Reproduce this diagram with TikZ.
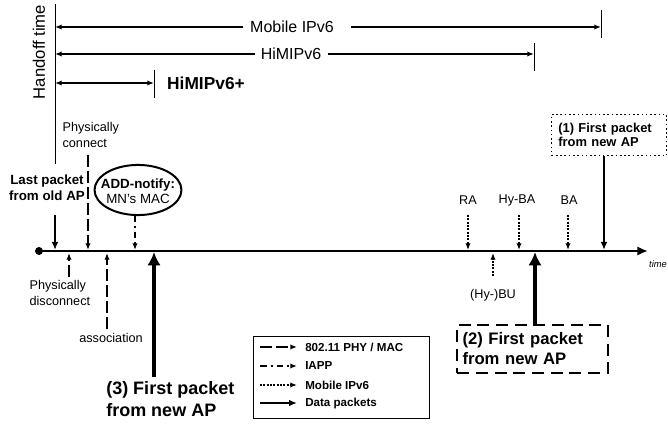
\documentclass[tikz,border=0pt]{standalone}
\usepackage{fontspec}
\setmainfont{Liberation Sans}
\usetikzlibrary{arrows, arrows.meta, shapes.geometric, positioning}

\tikzset{
  span/.style={line width=1.2pt, -{Latex[length=5pt, width=4pt]}},
  phy/.style={line width=1.5pt, dash pattern=on 9pt off 3pt, -{Latex[length=5pt, width=4pt]}},
  iapp/.style={line width=1.5pt, dash pattern=on 5pt off 3pt on 1.5pt off 3pt, -{Latex[length=5pt, width=4pt]}},
  mipv/.style={line width=1.5pt, dash pattern=on 1.5pt off 1pt, -{Latex[length=5pt, width=4pt]}},
  datapkt/.style={line width=1.5pt, -{Latex[length=6pt, width=5pt]}},
  bigpkt/.style={line width=3.5pt, -{Latex[length=10pt, width=10pt]}},
  txt/.style={font=\fontsize{9.5}{11.3}\selectfont, inner sep=1pt},
  btxt/.style={font=\bfseries\fontsize{10}{12}\selectfont, inner sep=1pt},
  legtxt/.style={font=\bfseries\fontsize{8.7}{10}\selectfont, anchor=west, inner sep=0pt},
}

\begin{document}
\begin{tikzpicture}[x=0.75pt, y=-0.75pt]
\useasboundingbox (0,0) rectangle (668,424);

% handoff time axis and spans
\coordinate (htop) at (55,4);
\coordinate (hbot) at (55,164);
\draw [thin] (htop) -- (hbot);
\node [rotate=90, font=\fontsize{12.5}{14}\selectfont] (htime) at (39,52) {Handoff time};

\node [font=\fontsize{12}{14}\selectfont, inner sep=0pt] (mip6) at (292,27) {Mobile IPv6};
\node [font=\fontsize{12}{14}\selectfont, inner sep=0pt] (himip) at (291,54) {HiMIPv6};
\node [font=\bfseries\fontsize{13}{15}\selectfont, inner sep=0pt] (himipp) at (206,83) {HiMIPv6+};

\coordinate (tmip) at (601,27);
\coordinate (thimip) at (534,54);
\coordinate (thimipp) at (154,83);
\draw [thin] (601,10) -- (601,38)
      (534,43) -- (534,71)
      (154,70) -- (154,98);

\draw [span] ([xshift=-5pt]mip6.west) -- (mip6.west -| htop);
\draw [span] ([xshift=13pt]mip6.east) -- (tmip);
\draw [span] ([xshift=-4pt]himip.west) -- (himip.west -| htop);
\draw [span] ([xshift=5pt]himip.east) -- (thimip);
\draw [span, {Latex[length=5pt, width=4pt]}-{Latex[length=5pt, width=4pt]}] (thimipp -| htop) -- (thimipp);

% time axis
\coordinate (t0) at (39,251);
\coordinate (tend) at (648,251);
\fill (t0) circle (3pt);
\draw [line width=2pt, -{Latex[length=8pt, width=7pt]}] (t0) -- (tend);
\node [font=\itshape\fontsize{7}{8}\selectfont] (timelbl) at (658,264) {time};

% events above the axis
\node [btxt, align=center] (lastpkt) at (47,188) {Last packet\\from old AP};
\draw [datapkt] (55,215) -- (55,250);

\node [txt, align=left, anchor=west] (phycon) at (61,135) {Physically\\connect};
\draw [phy] (88,155) -- (88,250);

\node [font=\fontsize{10}{11}\selectfont, align=center, inner sep=0pt] (addnote) at (138,191) {\textbf{ADD-notify:}\\MN’s MAC};
\draw [line width=1.5pt] (138,190) ellipse [x radius=32.6pt, y radius=18.8pt];
\coordinate (addbot) at (135,215);
\coordinate (evadd) at (135,250);
\draw [iapp] (addbot) -- (evadd);

\node [txt] (ra) at (468,200) {RA};
\draw [mipv] (468,215) -- (468,250);
\node [txt] (hyba) at (517,200) {Hy-BA};
\draw [mipv] (519,215) -- (519,250);
\node [txt] (ba) at (569,200) {BA};
\draw [mipv] (568,215) -- (568,250);

\node [draw, dotted, line width=1.2pt, text width=76pt, inner xsep=5pt, minimum height=31pt, align=left,
       font=\bfseries\fontsize{9.7}{11}\selectfont] (firstone) at (609,135) {(1) First packet\\from new AP};
\coordinate (evone) at (604,250);
\draw [datapkt] (firstone.south -| evone) -- (evone);

% events below the axis
\node [txt, align=left, anchor=west] (phydis) at (28,293) {Physically\\disconnect};
\draw [phy] (69,277) -- (69,253);

\node [txt] (assoc) at (111,338) {association};
\draw [phy] (107,329) -- (107,253);

\node [font=\bfseries\fontsize{13.5}{16.5}\selectfont, align=left, anchor=west, inner sep=0pt] (firstthree) at (106,399) {(3) First packet\\from new AP};
\draw [bigpkt] (154,377) -- (154,252);

\node [txt] (hybu) at (493,295) {(Hy-)BU};
\draw [mipv] (493,276) -- (493,253);

\node [draw, dash pattern=on 9pt off 5pt, line width=1.5pt, text width=105pt, inner xsep=4pt, minimum height=36pt, align=left,
       font=\bfseries\fontsize{12.5}{15}\selectfont] (firsttwo) at (532.5,349) {(2) First packet\\from new AP};
\coordinate (evtwo) at (535,252);
\draw [bigpkt] (firsttwo.north -| evtwo) -- (evtwo);

% legend
\node [draw, thin, minimum width=132pt, minimum height=61.5pt] (legend) at (341,377) {};
\draw [phy] (260,347) -- (297,347);
\node [legtxt] (legphy) at (305,347) {802.11 PHY / MAC};
\draw [iapp] (260,366) -- (297,366);
\node [legtxt] (legiapp) at (305,366) {IAPP};
\draw [mipv, line width=1pt] (260,385) -- (297,385);
\node [legtxt] (legmip) at (305,385) {Mobile IPv6};
\draw [datapkt] (260,403) -- (297,403);
\node [legtxt] (legdata) at (305,403) {Data packets};
\end{tikzpicture}
\end{document}
